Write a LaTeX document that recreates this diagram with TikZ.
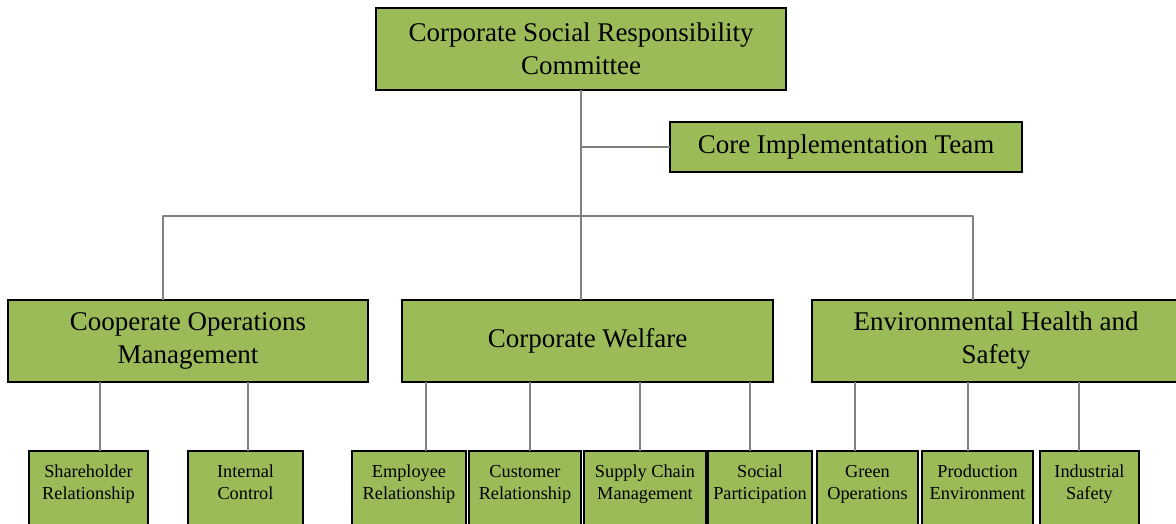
\documentclass[tikz,border=0pt]{standalone}
\usepackage{fontspec}
\setmainfont{Liberation Serif}
\usepackage{tikz}
\usetikzlibrary{positioning}
\definecolor{leafgreen}{RGB}{155,187,89}
\definecolor{linkgray}{RGB}{128,130,124}

\begin{document}
\begin{tikzpicture}[
        x=1pt, y=-1pt,
        box/.style = {draw, line width=1.5pt, fill=leafgreen, outer sep=0pt, inner sep=0pt, align=flush center, font=\fontsize{27}{33}\selectfont},
        leaf/.style = {draw, line width=1.5pt, fill=leafgreen, outer sep=0pt, inner xsep=0pt, inner ysep=6pt, align=flush center, anchor=north, text height=20pt, text depth=80pt, font=\fontsize{18.3}{22}\selectfont},
        link/.style = {draw=linkgray, line width=2.8pt, line join=round},
    ]
        \useasboundingbox (0,0) rectangle (1176,523);

        \node[box, minimum width=410pt, minimum height=82pt, text width=400pt] (csr) at (581,49) {Corporate Social Responsibility\\Committee};
        \node[box, minimum width=352pt, minimum height=50pt, text width=340pt] (core) at (846,147) {Core Implementation Team};

        \node[box, minimum width=360pt, minimum height=82pt, text width=350pt] (com) at (188,341) {Cooperate Operations\\Management};
        \node[box, minimum width=371pt, minimum height=82pt, text width=360pt] (cwel) at (587.5,341) {Corporate Welfare};
        \node[box, minimum width=368pt, minimum height=82pt, text width=360pt] (env) at (996,341) {Environmental Health and\\Safety};

        \node[leaf, text width=119pt] (sh) at (88.5,451) {Shareholder\\Relationship};
        \node[leaf, text width=115pt, right=40pt of sh] (ic) {Internal\\Control};
        \node[leaf, text width=114pt, right=49pt of ic] (emp) {Employee\\Relationship};
        \node[leaf, text width=112pt, right=3pt of emp] (cus) {Customer\\Relationship};
        \node[leaf, text width=122pt, right=3pt of cus] (sup) {Supply Chain\\Management};
        \node[leaf, text width=104pt, right=2pt of sup] (soc) {Social\\Participation};
        \node[leaf, text width=101pt, right=5pt of soc] (grn) {Green\\Operations};
        \node[leaf, text width=111pt, right=4pt of grn] (prd) {Production\\Environment};
        \node[leaf, text width=99pt, right=7pt of prd] (ind) {Industrial\\Safety};

        \coordinate (busL) at (163,216);
        \coordinate (busR) at (973,216);

        \draw[link] (csr.south) -- (csr.south |- cwel.north);
        \draw[link] (csr.south |- core.west) -- (core.west);
        \draw[link] (com.north -| busL) -- (busL) -- (busR) -- (env.north -| busR);

        \draw[link] ([xshift=11.5pt]sh.north) -- ([xshift=11.5pt]sh.north |- com.south);
        \draw[link] ([xshift=2.5pt]ic.north) -- ([xshift=2.5pt]ic.north |- com.south);
        \draw[link] ([xshift=17pt]emp.north) -- ([xshift=17pt]emp.north |- cwel.south);
        \draw[link] ([xshift=5pt]cus.north) -- ([xshift=5pt]cus.north |- cwel.south);
        \draw[link] ([xshift=-5pt]sup.north) -- ([xshift=-5pt]sup.north |- cwel.south);
        \draw[link] ([xshift=-10pt]soc.north) -- ([xshift=-10pt]soc.north |- cwel.south);
        \draw[link] ([xshift=-12.5pt]grn.north) -- ([xshift=-12.5pt]grn.north |- env.south);
        \draw[link] ([xshift=-9.5pt]prd.north) -- ([xshift=-9.5pt]prd.north |- env.south);
        \draw[link] ([xshift=-10.5pt]ind.north) -- ([xshift=-10.5pt]ind.north |- env.south);
    \end{tikzpicture}
\end{document}
